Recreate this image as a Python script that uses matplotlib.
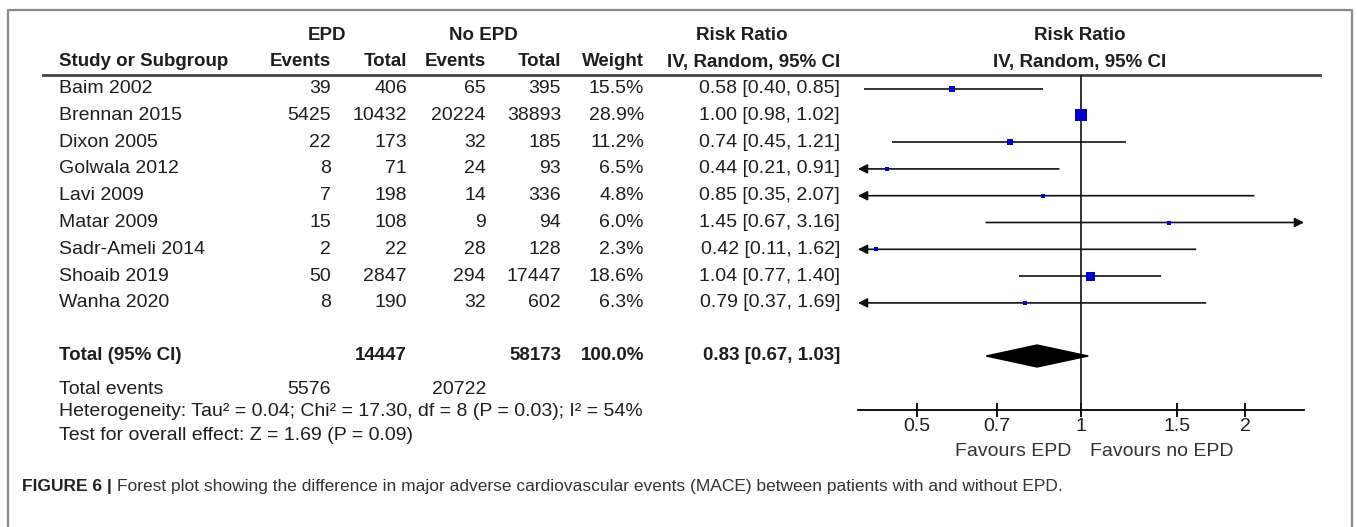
import matplotlib.pyplot as plt
from matplotlib.patches import Polygon

# ---- data ----
studies = ['Baim 2002', 'Brennan 2015', 'Dixon 2005', 'Golwala 2012', 'Lavi 2009',
           'Matar 2009', 'Sadr-Ameli 2014', 'Shoaib 2019', 'Wanha 2020']
epd_events = [39, 5425, 22, 8, 7, 15, 2, 50, 8]
epd_total = [406, 10432, 173, 71, 198, 108, 22, 2847, 190]
no_events = [65, 20224, 32, 24, 14, 9, 28, 294, 32]
no_total = [395, 38893, 185, 93, 336, 94, 128, 17447, 602]
weights = [15.5, 28.9, 11.2, 6.5, 4.8, 6.0, 2.3, 18.6, 6.3]
rr = [0.58, 1.00, 0.74, 0.44, 0.85, 1.45, 0.42, 1.04, 0.79]
rr_lo = [0.40, 0.98, 0.45, 0.21, 0.35, 0.67, 0.11, 0.77, 0.37]
rr_hi = [0.85, 1.02, 1.21, 0.91, 2.07, 3.16, 1.62, 1.40, 1.69]

total_epd, total_no = 14447, 58173
events_epd, events_no = 5576, 20722
pooled = (0.83, 0.67, 1.03)
heterogeneity = 'Heterogeneity: Tau\u00b2 = 0.04; Chi\u00b2 = 17.30, df = 8 (P = 0.03); I\u00b2 = 54%'
overall = 'Test for overall effect: Z = 1.69 (P = 0.09)'
ticks = [0.5, 0.7, 1, 1.5, 2]
tick_labels = ['0.5', '0.7', '1', '1.5', '2']
xlim = (0.39, 2.56)

# box side in pixels as drawn in the reference (style, not data)
box_px = [6, 12, 6, 4.5, 4.5, 4.5, 4, 9, 4.5]

W, H = 1357, 527
plt.rcParams['font.family'] = ['Liberation Sans', 'DejaVu Sans']
fs = 14      # regular table text
fb = 13.5    # bold headers
txt = '#1e1e1e'

fig = plt.figure(figsize=(W / 100, H / 100), dpi=100)
ax = fig.add_axes([0, 0, 1, 1])
ax.set_xlim(0, W)
ax.set_ylim(H, 0)
ax.axis('off')

# frame (open at the bottom)
ax.plot([8, 8, 1352, 1352], [H, 10, 10, H], color='#8a8a8a', lw=1.6)

# header
y_h1, y_h2, y_line = 35, 62, 75
ax.text(327, y_h1, 'EPD', ha='center', va='center', fontsize=fb, weight='bold', color=txt)
ax.text(483, y_h1, 'No EPD', ha='center', va='center', fontsize=fb, weight='bold', color=txt)
ax.text(742, y_h1, 'Risk Ratio', ha='center', va='center', fontsize=fb, weight='bold', color=txt)
ax.text(1080, y_h1, 'Risk Ratio', ha='center', va='center', fontsize=fb, weight='bold', color=txt)

col_right = [331, 407, 486, 561, 644, 840]
heads = ['Events', 'Total', 'Events', 'Total', 'Weight', 'IV, Random, 95% CI']
ax.text(59, y_h2, 'Study or Subgroup', ha='left', va='center', fontsize=fb, weight='bold', color=txt)
for xr, h in zip(col_right, heads):
    ax.text(xr, y_h2, h, ha='right', va='center', fontsize=fb, weight='bold', color=txt)
ax.text(1080, y_h2, 'IV, Random, 95% CI', ha='center', va='center', fontsize=fb, weight='bold', color=txt)
ax.plot([43, 1320], [y_line, y_line], color='#444444', lw=2)

# study rows
y0, dy = 88.5, 26.8
rows_y = [y0 + i * dy for i in range(len(studies))]
for i, y in enumerate(rows_y):
    ax.text(59, y, studies[i], ha='left', va='center', fontsize=fs, color=txt)
    vals = [str(epd_events[i]), str(epd_total[i]), str(no_events[i]), str(no_total[i]),
            f'{weights[i]:.1f}%', f'{rr[i]:.2f} [{rr_lo[i]:.2f}, {rr_hi[i]:.2f}]']
    for xr, v in zip(col_right, vals):
        ax.text(xr, y, v, ha='right', va='center', fontsize=fs, color=txt)

# totals
y_tot = 356
ax.text(59, y_tot, 'Total (95% CI)', ha='left', va='center', fontsize=fb, weight='bold', color=txt)
tot_vals = {407: str(total_epd), 561: str(total_no), 644: '100.0%',
            840: f'{pooled[0]:.2f} [{pooled[1]:.2f}, {pooled[2]:.2f}]'}
for xr, v in tot_vals.items():
    ax.text(xr, y_tot, v, ha='right', va='center', fontsize=fb, weight='bold', color=txt)
ax.text(59, 389, 'Total events', ha='left', va='center', fontsize=fs, color=txt)
ax.text(331, 389, str(events_epd), ha='right', va='center', fontsize=fs, color=txt)
ax.text(486, 389, str(events_no), ha='right', va='center', fontsize=fs, color=txt)
ax.text(59, 412, heterogeneity, ha='left', va='center', fontsize=fs, color=txt)
ax.text(59, 436, overall, ha='left', va='center', fontsize=fs, color=txt)

# caption
cap = ax.text(22, 487, 'FIGURE 6 |', ha='left', va='center', fontsize=12.5, weight='bold',
              color='#222222')
ax.annotate('Forest plot showing the difference in major adverse cardiovascular events (MACE) '
            'between patients with and without EPD.', xy=(1, 0.5), xycoords=cap,
            xytext=(4, 0), textcoords='offset points', ha='left', va='center',
            fontsize=12.5, color='#333333')

# ---- forest panel ----
x_left, x_right = 858, 1304
axf = fig.add_axes([x_left / W, 0, (x_right - x_left) / W, 1])
axf.set_xscale('log')
axf.set_xlim(*xlim)
axf.set_ylim(H, 0)
axf.patch.set_visible(False)
for s in ['top', 'left', 'right']:
    axf.spines[s].set_visible(False)
y_axis = 410
axf.spines['bottom'].set_position(('data', y_axis))
axf.spines['bottom'].set_linewidth(1.3)
axf.set_yticks([])
axf.set_xticks(ticks)
axf.set_xticklabels(tick_labels)
axf.minorticks_off()
axf.tick_params(axis='x', direction='inout', length=10, width=1.3, pad=1,
                labelsize=fs, labelcolor=txt)

axf.vlines(1, y_line, y_axis, color='#111111', lw=1.2)

arrow = dict(arrowstyle='-|>,head_length=0.55,head_width=0.28', color='#111111',
             lw=1.2, shrinkA=0, shrinkB=0)
for i, y in enumerate(rows_y):
    if rr_lo[i] < xlim[0]:
        axf.annotate('', xy=(xlim[0], y), xytext=(rr_hi[i], y), arrowprops=arrow,
                     annotation_clip=False)
    elif rr_hi[i] > xlim[1]:
        axf.annotate('', xy=(xlim[1], y), xytext=(rr_lo[i], y), arrowprops=arrow,
                     annotation_clip=False)
    else:
        axf.plot([rr_lo[i], rr_hi[i]], [y, y], color='#111111', lw=1.2,
                 solid_capstyle='butt')
    axf.plot(rr[i], y, marker='s', markersize=box_px[i] * 0.72, color='#0000cc',
             markeredgewidth=0, clip_on=False, zorder=3)

diamond = Polygon([(pooled[1], y_tot), (pooled[0], y_tot - 11), (pooled[2], y_tot),
                   (pooled[0], y_tot + 11)], closed=True, color='black', zorder=3)
axf.add_patch(diamond)

ax.text(1071, 451, 'Favours EPD', ha='right', va='center', fontsize=fs, color='#333333')
ax.text(1090, 451, 'Favours no EPD', ha='left', va='center', fontsize=fs, color='#333333')

fig.savefig('out.png', dpi=100)
